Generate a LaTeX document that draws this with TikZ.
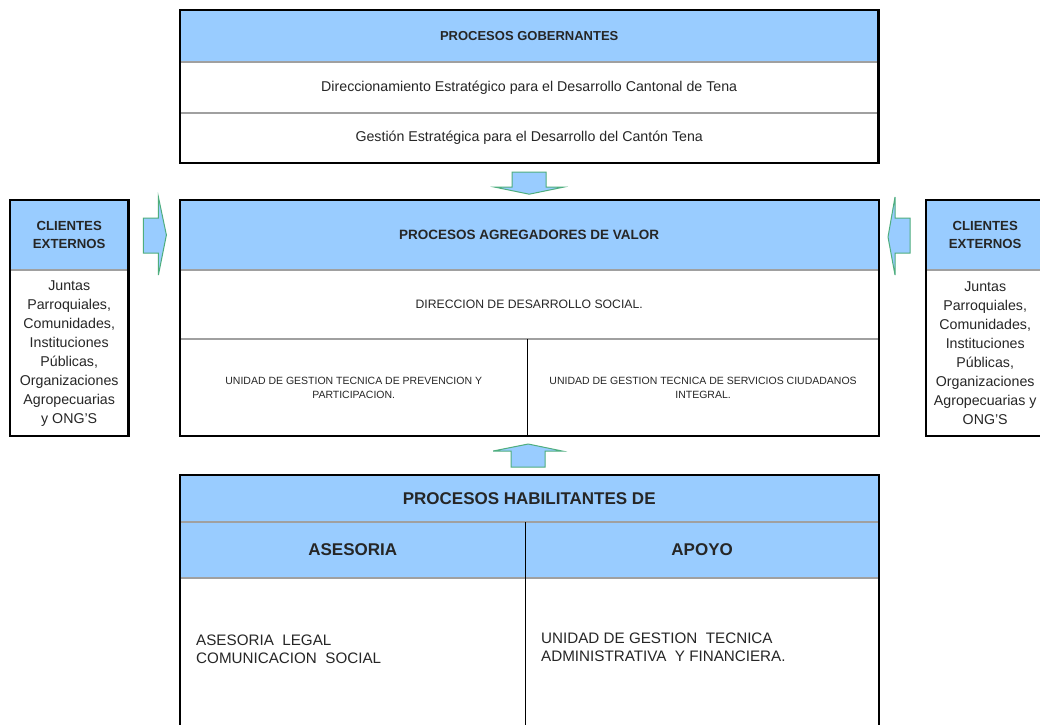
\documentclass[tikz,border=0pt]{standalone}
\usepackage{fontspec}
\setmainfont{Liberation Sans}
\usetikzlibrary{positioning}

\definecolor{hblue}{HTML}{99CCFF}
\definecolor{agreen}{HTML}{4FAE7E}
\definecolor{sepgray}{HTML}{A0A0A0}

\tikzset{
	cellbox/.style={inner sep=0pt, align=center, text=black!85, anchor=north west},
	hdrbox/.style={cellbox, fill=hblue},
	frame/.style={draw=black, line width=2.2pt},
	sep/.style={draw=sepgray, line width=2pt},
	divline/.style={draw=black, line width=0.8pt},
	blockarrow/.style={fill=hblue, draw=agreen, line width=1pt, line join=miter},
}
\newcommand{\fsz}[2]{\fontsize{#1}{#2}\selectfont}

\begin{document}
\begin{tikzpicture}[x=1pt, y=-1pt]
	\clip (0,0) rectangle (1040,724);
	\fill[white] (0,0) rectangle (1040,724);
	%Procesos gobernantes
		\node[hdrbox, minimum width=698, minimum height=52, font=\fsz{13}{15}\bfseries] (gobhdr) at (180,10) {PROCESOS GOBERNANTES};
		\node[cellbox, below=0pt of gobhdr, minimum width=698, minimum height=50, font=\fsz{14.2}{16}] (gobone) {Direccionamiento Estratégico para el Desarrollo Cantonal de Tena};
		\node[cellbox, below=0pt of gobone, minimum width=698, minimum height=50, font=\fsz{14.2}{16}] (gobtwo) {Gestión Estratégica para el Desarrollo del Cantón Tena};
		\draw[sep] (gobhdr.south west) -- (gobhdr.south east);
		\draw[sep] (gobone.south west) -- (gobone.south east);
		\draw[frame] (gobhdr.north west) rectangle (gobtwo.south east);
	%Procesos agregadores de valor
		\node[hdrbox, minimum width=698, minimum height=70, font=\fsz{13.5}{15}\bfseries] (agrhdr) at (180,200) {PROCESOS AGREGADORES DE VALOR};
		\node[cellbox, below=0pt of agrhdr, minimum width=698, minimum height=68, font=\fsz{12.2}{14}] (agrdir) {DIRECCION DE DESARROLLO SOCIAL.};
		\node[cellbox, below=0pt of agrdir.south west, anchor=north west, minimum width=347, minimum height=97, font=\fsz{10.5}{14}] (agrprev) {UNIDAD DE GESTION TECNICA DE PREVENCION Y\\PARTICIPACION.};
		\node[cellbox, right=0pt of agrprev, anchor=west, minimum width=351, minimum height=97, font=\fsz{10.5}{14}] (agrserv) {UNIDAD DE GESTION TECNICA DE SERVICIOS CIUDADANOS\\INTEGRAL.};
		\draw[sep] (agrhdr.south west) -- (agrhdr.south east);
		\draw[sep] (agrdir.south west) -- (agrdir.south east);
		\draw[divline] (agrprev.north east) -- (agrprev.south east);
		\draw[frame] (agrhdr.north west) rectangle (agrserv.south east);
	%Clientes externos (left)
		\node[hdrbox, minimum width=118, minimum height=70, font=\fsz{13.2}{18}\bfseries] (clihdrl) at (10,200) {CLIENTES\\EXTERNOS};
		\node[cellbox, below=0pt of clihdrl, minimum width=118, minimum height=165, font=\fsz{14.2}{19}] (clitxtl) {Juntas\\Parroquiales,\\Comunidades,\\Instituciones\\Públicas,\\Organizaciones\\Agropecuarias\\y ONG'S};
		\draw[sep] (clihdrl.south west) -- (clihdrl.south east);
		\draw[frame] (clihdrl.north west) rectangle (clitxtl.south east);
	%Clientes externos (right)
		\node[hdrbox, minimum width=118, minimum height=70, font=\fsz{13.2}{18}\bfseries] (clihdrr) at (926,200) {CLIENTES\\EXTERNOS};
		\node[cellbox, below=0pt of clihdrr, minimum width=118, minimum height=165, font=\fsz{14.2}{19}] (clitxtr) {Juntas\\Parroquiales,\\Comunidades,\\Instituciones\\Públicas,\\Organizaciones\\Agropecuarias y\\ONG'S};
		\draw[sep] (clihdrr.south west) -- (clihdrr.south east);
		\draw[frame] (clihdrr.north west) rectangle (clitxtr.south east);
	%Procesos habilitantes
		\node[hdrbox, minimum width=698, minimum height=47, font=\fsz{17}{18}\bfseries] (habhdr) at (180,475) {PROCESOS HABILITANTES DE};
		\node[hdrbox, below=0pt of habhdr.south west, anchor=north west, minimum width=345, minimum height=55, font=\fsz{17}{18}\bfseries] (habase) {ASESORIA};
		\node[hdrbox, right=0pt of habase, anchor=west, minimum width=353, minimum height=55, font=\fsz{17}{18}\bfseries] (habapo) {APOYO};
		\node[cellbox, below=0pt of habase.south west, anchor=north west, minimum width=345, minimum height=170] (habasetxt) {};
		\node[cellbox, below=0pt of habapo.south west, anchor=north west, minimum width=353, minimum height=170] (habapotxt) {};
		\node[cellbox, align=left, anchor=west, font=\fsz{15.2}{18}] (asetxt) at (196,649) {ASESORIA\ \ LEGAL\\COMUNICACION\ \ SOCIAL};
		\node[cellbox, align=left, anchor=west, font=\fsz{15.2}{18}] (apotxt) at (541,647) {UNIDAD DE GESTION\ \ TECNICA\\ADMINISTRATIVA\ \ Y FINANCIERA.};
		\draw[sep] (habhdr.south west) -- (habhdr.south east);
		\draw[sep] (habase.south west) -- (habapo.south east);
		\draw[divline] (habase.north east) -- (habasetxt.south east);
		\draw[frame] (habhdr.north west) rectangle (habapotxt.south east);
	%Arrow down to agregadores
		\begin{scope}[shift={(gobtwo.south)}]
			\draw[blockarrow] (-17,9) -- (17,9) -- (17,24) -- (34,24) -- (0,31) -- (-34,24) -- (-17,24) -- cycle;
		\end{scope}
	%Arrow up from habilitantes
		\begin{scope}[shift={(habhdr.north)}]
			\draw[blockarrow] (-18,-8) -- (16,-8) -- (16,-24) -- (33,-24) -- (-1,-31) -- (-36,-24) -- (-18,-24) -- cycle;
		\end{scope}
	%Arrow from left clients
		\begin{scope}[shift={(clihdrl.north east)}]
			\draw[blockarrow] (15,18) -- (30,18) -- (30,-3) -- (38,35) -- (30,75) -- (30,53) -- (15,53) -- cycle;
		\end{scope}
	%Arrow from right clients
		\begin{scope}[shift={(clihdrr.north west)}]
			\draw[blockarrow] (-16,18) -- (-31,18) -- (-31,-3) -- (-38,37) -- (-31,75) -- (-31,53) -- (-16,53) -- cycle;
		\end{scope}
\end{tikzpicture}
\end{document}
